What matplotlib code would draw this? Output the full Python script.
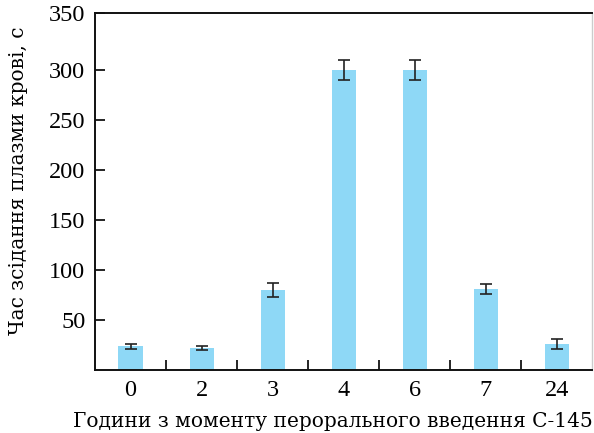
import numpy as np
import matplotlib
matplotlib.use('Agg')
import matplotlib.pyplot as plt
from matplotlib.ticker import FixedLocator

hours = ['0', '2', '3', '4', '6', '7', '24']
clot_time = [23.5, 21.5, 80, 300, 300, 81, 26]
clot_err = [2.5, 2, 7, 10, 10, 5, 5]

plt.rcParams['font.family'] = ['Liberation Serif', 'DejaVu Serif']

fig = plt.figure(figsize=(5.94, 4.33), dpi=100)
ax = fig.add_axes([0.16, 0.1455, 0.837, 0.825])

x = np.arange(len(hours))
ax.bar(x, clot_time, width=0.34, color='#8ED8F6', edgecolor='none')
ax.errorbar(x, clot_time, yerr=clot_err, fmt='none', ecolor='#222222',
            elinewidth=1.2, capsize=4, capthick=1.2)

ax.set_xlim(-0.5, len(hours) - 0.5)
ax.set_ylim(0, 357)
ax.set_yticks([50, 100, 150, 200, 250, 300, 357],
              ['50', '100', '150', '200', '250', '300', '350'])
ax.set_xticks(x, hours)
ax.xaxis.set_minor_locator(FixedLocator(x[:-1] + 0.5))

ax.tick_params(axis='x', which='major', length=0, pad=7, labelsize=17.5)
ax.tick_params(axis='x', which='minor', direction='in', length=7, width=1.2)
ax.tick_params(axis='y', direction='in', length=7, width=1.2, pad=7, labelsize=17.5)

for s in ['left', 'bottom', 'top']:
    ax.spines[s].set_linewidth(1.4)
    ax.spines[s].set_color('#111111')
ax.spines['right'].set_color('#cccccc')
ax.spines['right'].set_linewidth(1.0)

label_font = dict(family=['DejaVu Serif'], fontsize=14.5)
ax.set_xlabel('Години з моменту перорального введення С-145', labelpad=9, **label_font)
ax.set_ylabel('Час зсідання плазми крові, с', labelpad=8, **label_font)
ax.xaxis.set_label_coords(0.478, -0.118)
ax.yaxis.set_label_coords(-0.135, 0.529)

fig.savefig('out.png', dpi=100)
